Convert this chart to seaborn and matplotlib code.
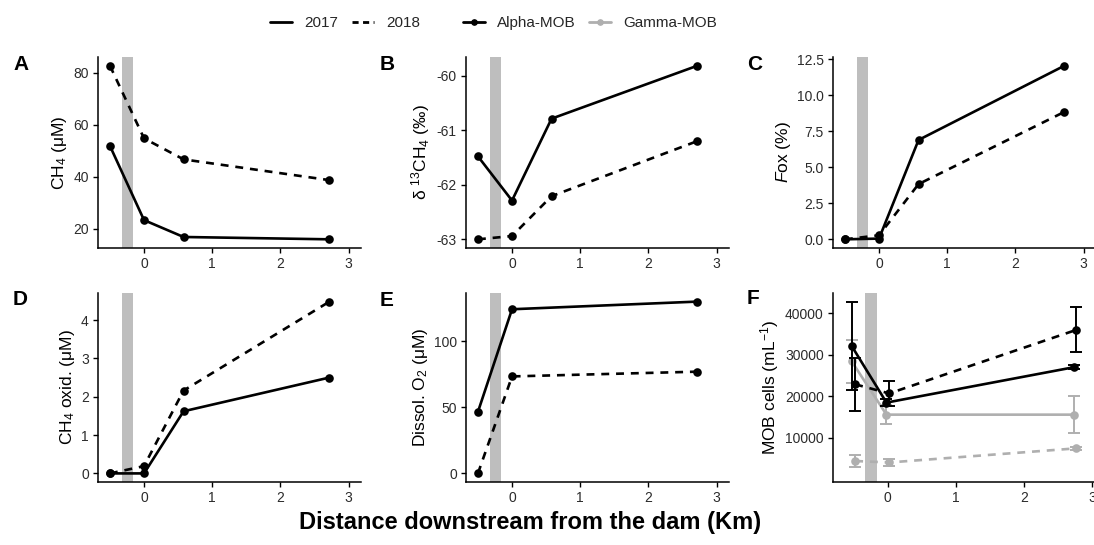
import numpy as np
import pandas as pd
import matplotlib
matplotlib.use('Agg')
import matplotlib.pyplot as plt
import seaborn as sns
from matplotlib.lines import Line2D
from matplotlib.ticker import FormatStrFormatter

sns.set_theme(style='ticks')
plt.rcParams['font.family'] = ['Liberation Sans', 'DejaVu Sans']
plt.rcParams['mathtext.fontset'] = 'custom'
plt.rcParams['mathtext.rm'] = 'Liberation Sans'
plt.rcParams['mathtext.it'] = 'Liberation Sans:italic'
plt.rcParams['mathtext.bf'] = 'Liberation Sans:bold'
plt.rcParams['axes.unicode_minus'] = False

# ---------------- data ----------------
years = ['2017', '2018']
groups = ['Alpha-MOB', 'Gamma-MOB']
stations = [-0.5, 0.0, 0.58, 2.72]
stations_o2 = [-0.5, 0.0, 2.72]

ch4_2017 = [51.9, 23.3, 16.8, 15.9]
ch4_2018 = [82.8, 54.8, 46.7, 38.7]
d13c_2017 = [-61.48, -62.29, -60.79, -59.82]
d13c_2018 = [-63.0, -62.94, -62.21, -61.2]
fox_2017 = [0.0, 0.05, 6.89, 12.04]
fox_2018 = [0.0, 0.28, 3.83, 8.84]
oxid_2017 = [0.0, 0.0, 1.62, 2.50]
oxid_2018 = [0.0, 0.19, 2.16, 4.48]
o2_2017 = [46.6, 124.4, 130.2]
o2_2018 = [0.0, 73.5, 77.1]

mob_x_2017 = [-0.53, -0.02, 2.73]
mob_x_2018 = [-0.48, 0.02, 2.77]
alpha_2017 = [32100, 18500, 27000]
alpha_2017_sd = [10500, 900, 500]
alpha_2018 = [22900, 20700, 36000]
alpha_2018_sd = [6400, 3000, 5400]
gamma_2017 = [28400, 15600, 15600]
gamma_2017_sd = [5200, 2300, 4500]
gamma_2018 = [4450, 4100, 7500]
gamma_2018_sd = [1500, 900, 300]

dam_band = (-0.33, -0.165)

panel_labels = ['A', 'B', 'C', 'D', 'E', 'F']
ylabels = [
    r'CH$\mathregular{_4}$ (μM)',
    r'δ $\mathregular{^{13}}$CH$\mathregular{_4}$ (‰)',
    r'$\mathit{F}$ox (%)',
    r'CH$\mathregular{_4}$ oxid. (μM)',
    r'Dissol. O$\mathregular{_2}$ (μM)',
    r'MOB cells (mL$\mathregular{^{-1}}$)',
]
yticks = [
    [20, 40, 60, 80],
    [-63, -62, -61, -60],
    [0, 2.5, 5, 7.5, 10, 12.5],
    [0, 1, 2, 3, 4],
    [0, 50, 100],
    [10000, 20000, 30000, 40000],
]
xticks = [0, 1, 2, 3]
xlabel = 'Distance downstream from the dam (Km)'

# ---------------- style ----------------
W, H = 1094, 545
DPI = 100
LW = 1.9
MS = 6.2
DASH = (3.0, 2.6)
GRAY = '#AFAFAF'
BAND = '#BEBEBE'
TICKCOL = '#2b2b2b'

fig = plt.figure(figsize=(W / DPI, H / DPI), dpi=DPI)
fig.patch.set_facecolor('white')

# panel boxes in pixels: left, top, width, height
boxes = [
    (98, 57, 262.5, 191),
    (466, 57, 262.5, 191),
    (833, 57, 262.5, 191),
    (98, 293, 262.5, 189),
    (466, 293, 262.5, 189),
    (833, 293, 271.4, 189),
]
xlims = [(-0.675, 3.175)] * 5 + [(-0.805, 3.18)]

axes = []
for (l, t, w, h) in boxes:
    ax = fig.add_axes([l / W, (H - t - h) / H, w / W, h / H])
    axes.append(ax)


def long_df(x, v17, v18):
    return pd.DataFrame({
        'x': list(x) + list(x),
        'v': list(v17) + list(v18),
        'year': ['2017'] * len(v17) + ['2018'] * len(v18),
    })


def draw_pair(ax, x, v17, v18, color='black'):
    df = long_df(x, v17, v18)
    sns.lineplot(data=df, x='x', y='v', style='year', style_order=years,
                 dashes={'2017': '', '2018': DASH},
                 markers={'2017': 'o', '2018': 'o'},
                 color=color, lw=LW, markersize=MS, markeredgewidth=0,
                 estimator=None, sort=False, legend=False, ax=ax, zorder=3)


draw_pair(axes[0], stations, ch4_2017, ch4_2018)
draw_pair(axes[1], stations, d13c_2017, d13c_2018)
draw_pair(axes[2], stations, fox_2017, fox_2018)
draw_pair(axes[3], stations, oxid_2017, oxid_2018)
draw_pair(axes[4], stations_o2, o2_2017, o2_2018)

# panel F
axF = axes[5]
mob = pd.DataFrame({
    'x': mob_x_2017 + mob_x_2018 + mob_x_2017 + mob_x_2018,
    'v': alpha_2017 + alpha_2018 + gamma_2017 + gamma_2018,
    'sd': alpha_2017_sd + alpha_2018_sd + gamma_2017_sd + gamma_2018_sd,
    'year': ['2017'] * 3 + ['2018'] * 3 + ['2017'] * 3 + ['2018'] * 3,
    'group': ['Alpha-MOB'] * 6 + ['Gamma-MOB'] * 6,
})
palette = {'Alpha-MOB': 'black', 'Gamma-MOB': GRAY}
for g, z in [('Gamma-MOB', 2), ('Alpha-MOB', 4)]:
    sub = mob[mob['group'] == g]
    for yr in years:
        s = sub[sub['year'] == yr]
        axF.errorbar(s['x'], s['v'], yerr=s['sd'], fmt='none',
                     ecolor=palette[g], elinewidth=1.4, capsize=4.3,
                     capthick=1.4, zorder=z)
    sns.lineplot(data=sub, x='x', y='v', style='year', style_order=years,
                 dashes={'2017': '', '2018': DASH},
                 markers={'2017': 'o', '2018': 'o'},
                 color=palette[g], lw=LW, markersize=MS, markeredgewidth=0,
                 estimator=None, sort=False, legend=False, ax=axF, zorder=z + 0.5)
axF.set_ylim(-600, 44860)

for i, ax in enumerate(axes):
    ax.axvspan(dam_band[0], dam_band[1], color=BAND, lw=0, zorder=1)
    ax.set_xlim(*xlims[i])
    if i < 5:
        ax.margins(y=0.05)
    ax.set_xticks(xticks)
    ax.set_yticks(yticks[i])
    ax.set_xlabel('')
    ax.set_ylabel(ylabels[i], fontsize=12.5, color='black', labelpad=3)
    for sp in ['top', 'right']:
        ax.spines[sp].set_visible(False)
    for sp in ['left', 'bottom']:
        ax.spines[sp].set_color('black')
        ax.spines[sp].set_linewidth(1.1)
    ax.tick_params(axis='both', direction='out', length=3.8, width=1.0,
                   color='black', labelcolor=TICKCOL, labelsize=10, pad=2.8)
    ax.set_facecolor('none')
    ax.grid(False)

axes[2].yaxis.set_major_formatter(FormatStrFormatter('%.1f'))

# panel letters
label_pos = [(13, 65), (380, 65), (747, 64), (13, 299.5), (380, 300), (747, 299)]
for lab, (px, py) in zip(panel_labels, label_pos):
    fig.text(px / W, 1 - py / H, lab, fontsize=15, fontweight='bold',
             ha='left', va='center', color='black')

# shared x label
fig.text(530 / W, 1 - 523 / H, xlabel, fontsize=17, fontweight='bold',
         ha='center', va='center', color='black')

# legends
lt_handles = [Line2D([], [], color='black', lw=2.0),
              Line2D([], [], color='black', lw=2.0, dashes=(2.2, 1.6))]
fig.legend(lt_handles, years, loc='center', bbox_to_anchor=(345 / W, 1 - 23 / H),
           ncol=2, frameon=False, fontsize=11, handlelength=1.45,
           handletextpad=0.8, columnspacing=0.9, borderaxespad=0)
grp_handles = [Line2D([], [], color='black', lw=2.0, marker='o', markersize=3.8),
               Line2D([], [], color=GRAY, lw=2.0, marker='o', markersize=3.8)]
fig.legend(grp_handles, groups, loc='center', bbox_to_anchor=(590 / W, 1 - 23 / H),
           ncol=2, frameon=False, fontsize=11, handlelength=1.45,
           handletextpad=0.8, columnspacing=0.9, borderaxespad=0)

fig.savefig('out.png', dpi=DPI, facecolor='white')
